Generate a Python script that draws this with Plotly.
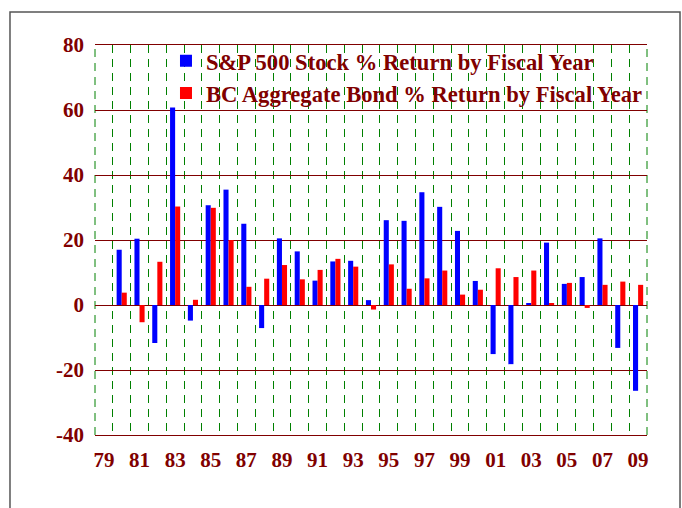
import plotly.graph_objects as go

# fiscal years and % returns
years = list(range(1979, 2010))
sp500 = [None, 17.0, 20.4, -11.7, 60.8, -4.8, 30.7, 35.5, 25.0, -7.1,
         20.5, 16.5, 7.5, 13.4, 13.6, 1.5, 26.1, 25.9, 34.7, 30.2,
         22.8, 7.4, -15.1, -18.2, 0.4, 19.2, 6.5, 8.6, 20.5, -13.2, -26.4]
bonds = [None, 3.8, -5.3, 13.3, 30.3, 1.6, 29.9, 20.0, 5.6, 8.1,
         12.3, 7.9, 10.8, 14.2, 11.8, -1.4, 12.5, 5.0, 8.2, 10.6,
         3.2, 4.7, 11.3, 8.6, 10.6, 0.4, 6.8, -0.9, 6.2, 7.2, 6.2]
xtick_vals = years[::2]
xtick_text = ["%02d" % (y % 100) for y in xtick_vals]
ytick_vals = [-40, -20, 0, 20, 40, 60, 80]
ytick_text = [str(v) for v in ytick_vals]  # plain hyphen, not unicode minus

dark_red = "#800000"
green = "#008000"
serif = "Liberation Serif, Times New Roman, serif"
label_font = dict(family=serif, size=21, color=dark_red, weight="bold")

fig = go.Figure()
fig.add_trace(go.Bar(x=years, y=sp500, name="S&P 500 Stock % Return by Fiscal Year",
                     marker=dict(color="#0000ff", line=dict(width=0)),
                     legendgroup="a"))
fig.add_trace(go.Bar(x=years, y=bonds, name="BC Aggregate Bond % Return by Fiscal Year",
                     marker=dict(color="#ff0000", line=dict(width=0)),
                     legendgroup="b"))

# dashed green lines on the left/right edges of the plot area (grid is clipped there)
edge_lines = [dict(type="line", xref="paper", yref="paper", x0=xp, x1=xp, y0=0, y1=1,
                   line=dict(color=green, width=1, dash="8px,6px"), layer="below")
              for xp in (0, 1)]

fig.update_layout(
    width=682, height=508,
    margin=dict(l=95, r=35, t=45, b=73),
    paper_bgcolor="white", plot_bgcolor="white",
    barmode="group", bargap=0.43, bargroupgap=0,
    font=dict(family=serif, color=dark_red, size=20, weight="bold"),
    showlegend=True,
    legend=dict(x=0.1286, y=1.014, xanchor="left", yanchor="top",
                bgcolor="rgba(0,0,0,0)", tracegroupgap=0,
                font=dict(family=serif, size=22.6, color=dark_red, weight="bold"),
                itemwidth=30),
    xaxis=dict(range=[1978.5, 2009.5], tickmode="array",
               tickvals=xtick_vals, ticktext=xtick_text,
               showgrid=False, zeroline=False, ticks="",
               showline=True, mirror=True, linecolor=dark_red, linewidth=1,
               ticklabelstandoff=6, tickfont=label_font,
               minor=dict(tick0=1978.5, dtick=1, showgrid=True,
                          gridcolor=green, gridwidth=1, griddash="8px,6px",
                          ticks="")),
    yaxis=dict(range=[-40, 80], tickmode="array", tickvals=ytick_vals,
               ticktext=ytick_text,
               showgrid=True, gridcolor=dark_red, gridwidth=1,
               zeroline=True, zerolinecolor=dark_red, zerolinewidth=1,
               showline=False, ticks="", ticklabelstandoff=10,
               tickfont=label_font),
    shapes=edge_lines + [dict(type="rect", xref="paper", yref="paper",
                              x0=-0.154, x1=1.0598, y0=-0.4, y1=1.0846,
                              line=dict(color="#555555", width=1.5), layer="below")],
)

# drop the browser's default 8px body margin so the figure sits at the window origin
fig.write_html("out.html", config={"displayModeBar": False},
               post_script="document.body.style.margin='0';")
